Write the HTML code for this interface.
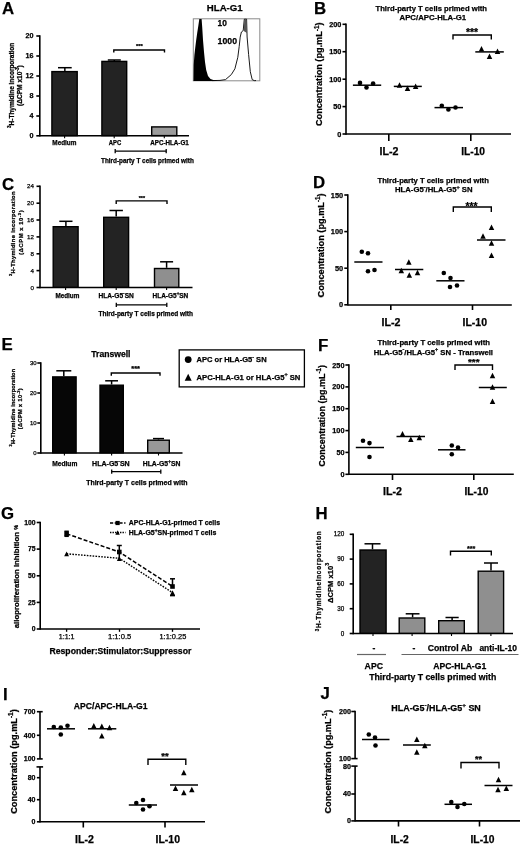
<!DOCTYPE html>
<html><head><meta charset="utf-8"><style>
html,body{margin:0;padding:0;background:#fff;width:520px;height:845px;overflow:hidden}
svg{display:block;font-family:"Liberation Sans", sans-serif;filter:grayscale(1)}
text{stroke:#000;stroke-width:0.25px}
</style></head><body>
<svg width="520" height="845" viewBox="0 0 520 845">
<rect width="520" height="845" fill="#fff"/>
<text x="2" y="13.5" font-size="16.8" font-weight="bold">A</text>
<line x1="39.8" y1="35.2" x2="39.8" y2="136.6" stroke="#000" stroke-width="1.6"/>
<line x1="36.3" y1="36" x2="39.8" y2="36" stroke="#000" stroke-width="1.6"/>
<line x1="36.3" y1="56" x2="39.8" y2="56" stroke="#000" stroke-width="1.6"/>
<line x1="36.3" y1="76" x2="39.8" y2="76" stroke="#000" stroke-width="1.6"/>
<line x1="36.3" y1="96" x2="39.8" y2="96" stroke="#000" stroke-width="1.6"/>
<line x1="36.3" y1="116" x2="39.8" y2="116" stroke="#000" stroke-width="1.6"/>
<line x1="36.3" y1="135.8" x2="39.8" y2="135.8" stroke="#000" stroke-width="1.6"/>
<text x="33.6" y="38.48" font-size="7.2" font-weight="bold" text-anchor="end">20</text>
<text x="33.6" y="58.48" font-size="7.2" font-weight="bold" text-anchor="end">16</text>
<text x="33.6" y="78.48" font-size="7.2" font-weight="bold" text-anchor="end">12</text>
<text x="33.6" y="98.48" font-size="7.2" font-weight="bold" text-anchor="end">8</text>
<text x="33.6" y="118.48" font-size="7.2" font-weight="bold" text-anchor="end">4</text>
<text x="33.6" y="138.28" font-size="7.2" font-weight="bold" text-anchor="end">0</text>
<line x1="39.8" y1="135.8" x2="189" y2="135.8" stroke="#000" stroke-width="1.6"/>
<line x1="64.6" y1="135.8" x2="64.6" y2="138.3" stroke="#000" stroke-width="1.1"/>
<line x1="114.2" y1="135.8" x2="114.2" y2="138.3" stroke="#000" stroke-width="1.1"/>
<line x1="164.3" y1="135.8" x2="164.3" y2="138.3" stroke="#000" stroke-width="1.1"/>
<rect x="51.9" y="71.6" width="25.3" height="64" fill="#232323" stroke="#000" stroke-width="1.4"/>
<line x1="64.85" y1="67.7" x2="64.85" y2="70.9" stroke="#000" stroke-width="1.5"/>
<line x1="58" y1="67.7" x2="71.7" y2="67.7" stroke="#000" stroke-width="1.5"/>
<rect x="101.9" y="61.4" width="24.8" height="74.2" fill="#232323" stroke="#000" stroke-width="1.4"/>
<line x1="114.3" y1="60" x2="114.3" y2="61" stroke="#000" stroke-width="1.5"/>
<line x1="107.8" y1="60" x2="120.8" y2="60" stroke="#000" stroke-width="1.5"/>
<rect x="151.7" y="126.9" width="25.1" height="8.7" fill="#9c9c9c" stroke="#000" stroke-width="1.4"/>
<polyline points="113.8,52.6 113.8,50 164.5,50 164.5,52.6" fill="none" stroke="#000" stroke-width="1.4"/>
<text x="139.45" y="48.18" font-size="5.94" font-weight="bold" text-anchor="middle">***</text>
<text x="52.3" y="145.2" font-size="6.4" font-weight="bold" textLength="24.19" lengthAdjust="spacingAndGlyphs" fill="#000">Medium</text>
<text x="108.7" y="145.2" font-size="6.4" font-weight="bold" textLength="12.51" lengthAdjust="spacingAndGlyphs" fill="#000">APC</text>
<text x="150.2" y="145.2" font-size="6.4" font-weight="bold" textLength="38.61" lengthAdjust="spacingAndGlyphs" fill="#000">APC-HLA-G1</text>
<line x1="115.2" y1="151.2" x2="166.2" y2="151.2" stroke="#000" stroke-width="1.3"/>
<line x1="115.2" y1="149.1" x2="115.2" y2="153.3" stroke="#000" stroke-width="1.3"/>
<line x1="166.2" y1="149.1" x2="166.2" y2="153.3" stroke="#000" stroke-width="1.3"/>
<text x="101" y="163.4" font-size="6.37" font-weight="bold" textLength="92.81" lengthAdjust="spacingAndGlyphs" fill="#000">Third-party T cells primed with</text>
<text transform="translate(14 127.9) rotate(-90)" font-size="6.6" font-weight="bold" textLength="85.21" lengthAdjust="spacing"><tspan font-size="70%" dy="-0.6em">3</tspan><tspan dy="0.42em">H-Thymidine incorporation</tspan></text>
<text transform="translate(22 106) rotate(-90)" font-size="6.6" font-weight="bold" textLength="40.79" lengthAdjust="spacing">(ΔCPM x10<tspan font-size="70%" dy="-0.6em">-3</tspan><tspan dy="0.42em">)</tspan></text>
<text x="206.8" y="11.3" font-size="9.65" font-weight="bold" textLength="35.91" lengthAdjust="spacingAndGlyphs" fill="#000">HLA-G1</text>
<rect x="193.3" y="18.8" width="66.5" height="62" fill="none" stroke="#8a8a8a" stroke-width="1"/>
<path d="M193.5,81 L193.7,65 L194.4,55 L195.2,48 L196.2,40 L197.2,33 L198.3,26 L199.3,19 L201.6,19 L202.2,27 L203,40 L204,52 L205,62 L206.2,70 L208,76 L210.5,79 L214,80.3 L217,80.7 L217,81 Z" fill="#000"/>
<path d="M212,80.6 L220,80.4 L225.5,79.6 L231.3,74.6 L234.9,68.8 L237.8,57.3 L239.2,46.5 L240.2,37.1 L241.4,32 L243.2,30.6 L244.3,19.2 L246.6,19.2 L247.1,37 L248.6,54.4 L250.3,71.7 L252.2,79.6 L254.3,80.6 L256,80.6" fill="none" stroke="#000" stroke-width="0.9"/>
<path d="M243.6,31 L244.3,20 L246.6,20 L247,33 Z" fill="#555"/>
<text x="217.6" y="26.3" font-size="8.37" font-weight="bold" textLength="9.31" lengthAdjust="spacingAndGlyphs" fill="#000">10</text>
<text x="217.6" y="43.6" font-size="8.72" font-weight="bold" textLength="19.41" lengthAdjust="spacingAndGlyphs" fill="#000">1000</text>
<text x="313.9" y="14.2" font-size="16.8" font-weight="bold">B</text>
<text x="375.5" y="11.4" font-size="7.66" font-weight="bold" textLength="111.51" lengthAdjust="spacingAndGlyphs" fill="#000">Third-party T cells primed with</text>
<text x="399.5" y="20.3" font-size="7.8" font-weight="bold" textLength="66.71" lengthAdjust="spacingAndGlyphs" fill="#000">APC/APC-HLA-G1</text>
<line x1="346" y1="23.5" x2="346" y2="134.8" stroke="#000" stroke-width="1.6"/>
<line x1="342.5" y1="24.3" x2="346" y2="24.3" stroke="#000" stroke-width="1.6"/>
<line x1="342.5" y1="51.7" x2="346" y2="51.7" stroke="#000" stroke-width="1.6"/>
<line x1="342.5" y1="79.2" x2="346" y2="79.2" stroke="#000" stroke-width="1.6"/>
<line x1="342.5" y1="106.6" x2="346" y2="106.6" stroke="#000" stroke-width="1.6"/>
<line x1="342.5" y1="134" x2="346" y2="134" stroke="#000" stroke-width="1.6"/>
<text x="341.4" y="26.81" font-size="7.3" font-weight="bold" text-anchor="end">200</text>
<text x="341.4" y="54.21" font-size="7.3" font-weight="bold" text-anchor="end">150</text>
<text x="341.4" y="81.71" font-size="7.3" font-weight="bold" text-anchor="end">100</text>
<text x="341.4" y="109.11" font-size="7.3" font-weight="bold" text-anchor="end">50</text>
<text x="341.4" y="136.51" font-size="7.3" font-weight="bold" text-anchor="end">0</text>
<text transform="translate(322.4 126) rotate(-90)" font-size="9.12" font-weight="bold" textLength="103.48" lengthAdjust="spacingAndGlyphs">Concentration (pg.mL<tspan font-size="70%" dy="-0.6em">-1</tspan><tspan dy="0.42em">)</tspan></text>
<line x1="346" y1="134" x2="511" y2="134" stroke="#000" stroke-width="1.6"/>
<line x1="388.8" y1="134" x2="388.8" y2="141" stroke="#000" stroke-width="1.6"/>
<line x1="470.8" y1="134" x2="470.8" y2="141" stroke="#000" stroke-width="1.6"/>
<text x="379.5" y="154.8" font-size="10.69" font-weight="bold" textLength="19.01" lengthAdjust="spacingAndGlyphs" fill="#000">IL-2</text>
<text x="461.2" y="154.8" font-size="10.2" font-weight="bold" textLength="23.81" lengthAdjust="spacingAndGlyphs" fill="#000">IL-10</text>
<line x1="352.9" y1="85.2" x2="381.2" y2="85.2" stroke="#000" stroke-width="1.5"/>
<circle cx="360" cy="82.9" r="2.3" fill="#000"/>
<circle cx="366.5" cy="87.5" r="2.3" fill="#000"/>
<circle cx="373.1" cy="83.6" r="2.3" fill="#000"/>
<line x1="393.8" y1="86.4" x2="421.8" y2="86.4" stroke="#000" stroke-width="1.5"/>
<polygon points="399.5,82.25 396.75,87.75 402.25,87.75" fill="#000"/>
<polygon points="407.5,85.45 404.75,90.95 410.25,90.95" fill="#000"/>
<polygon points="415.6,83.55 412.85,89.05 418.35,89.05" fill="#000"/>
<line x1="434.5" y1="107.6" x2="463" y2="107.6" stroke="#000" stroke-width="1.5"/>
<circle cx="441.8" cy="105.8" r="2.3" fill="#000"/>
<circle cx="448.4" cy="109.5" r="2.3" fill="#000"/>
<circle cx="455.5" cy="107.5" r="2.3" fill="#000"/>
<line x1="475.3" y1="51.9" x2="503.8" y2="51.9" stroke="#000" stroke-width="1.5"/>
<polygon points="481.5,46.05 478.75,51.55 484.25,51.55" fill="#000"/>
<polygon points="489.5,53.45 486.75,58.95 492.25,58.95" fill="#000"/>
<polygon points="497.5,48.45 494.75,53.95 500.25,53.95" fill="#000"/>
<polyline points="453,39.5 453,35 491.3,35 491.3,39.5" fill="none" stroke="#000" stroke-width="1.4"/>
<text x="472.05" y="36.43" font-size="10.41" font-weight="bold" text-anchor="middle">***</text>
<text x="2" y="190.4" font-size="16.8" font-weight="bold">C</text>
<line x1="40" y1="185.5" x2="40" y2="288.3" stroke="#000" stroke-width="1.6"/>
<line x1="36.5" y1="186.3" x2="40" y2="186.3" stroke="#000" stroke-width="1.6"/>
<line x1="36.5" y1="203.2" x2="40" y2="203.2" stroke="#000" stroke-width="1.6"/>
<line x1="36.5" y1="220" x2="40" y2="220" stroke="#000" stroke-width="1.6"/>
<line x1="36.5" y1="236.9" x2="40" y2="236.9" stroke="#000" stroke-width="1.6"/>
<line x1="36.5" y1="253.8" x2="40" y2="253.8" stroke="#000" stroke-width="1.6"/>
<line x1="36.5" y1="270.6" x2="40" y2="270.6" stroke="#000" stroke-width="1.6"/>
<line x1="36.5" y1="287.5" x2="40" y2="287.5" stroke="#000" stroke-width="1.6"/>
<text x="33.9" y="188.43" font-size="6.2" font-weight="normal" text-anchor="end">24</text>
<text x="33.9" y="205.33" font-size="6.2" font-weight="normal" text-anchor="end">20</text>
<text x="33.9" y="222.13" font-size="6.2" font-weight="normal" text-anchor="end">16</text>
<text x="33.9" y="239.03" font-size="6.2" font-weight="normal" text-anchor="end">12</text>
<text x="33.9" y="255.93" font-size="6.2" font-weight="normal" text-anchor="end">8</text>
<text x="33.9" y="272.73" font-size="6.2" font-weight="normal" text-anchor="end">4</text>
<text x="33.9" y="289.63" font-size="6.2" font-weight="normal" text-anchor="end">0</text>
<line x1="40" y1="287.5" x2="192.5" y2="287.5" stroke="#000" stroke-width="1.6"/>
<line x1="65.6" y1="287.5" x2="65.6" y2="290" stroke="#000" stroke-width="1.1"/>
<line x1="116.2" y1="287.5" x2="116.2" y2="290" stroke="#000" stroke-width="1.1"/>
<line x1="166.6" y1="287.5" x2="166.6" y2="290" stroke="#000" stroke-width="1.1"/>
<rect x="53.2" y="226.7" width="24.9" height="60.6" fill="#232323" stroke="#000" stroke-width="1.4"/>
<line x1="65.9" y1="221.3" x2="65.9" y2="226" stroke="#000" stroke-width="1.5"/>
<line x1="59.3" y1="221.3" x2="72.5" y2="221.3" stroke="#000" stroke-width="1.5"/>
<rect x="103.7" y="217.3" width="24.9" height="70" fill="#232323" stroke="#000" stroke-width="1.4"/>
<line x1="116.2" y1="210.5" x2="116.2" y2="216.6" stroke="#000" stroke-width="1.5"/>
<line x1="109.5" y1="210.5" x2="122.9" y2="210.5" stroke="#000" stroke-width="1.5"/>
<rect x="154.5" y="268.5" width="24.3" height="18.8" fill="#8f8f8f" stroke="#000" stroke-width="1.4"/>
<line x1="166.6" y1="261.8" x2="166.6" y2="267.8" stroke="#000" stroke-width="1.5"/>
<line x1="160.1" y1="261.8" x2="173.1" y2="261.8" stroke="#000" stroke-width="1.5"/>
<polyline points="116.2,203.9 116.2,200.9 167,200.9 167,203.9" fill="none" stroke="#000" stroke-width="1.4"/>
<text x="141.9" y="199.72" font-size="5.42" font-weight="bold" text-anchor="middle">***</text>
<text x="55.4" y="297.7" font-size="6.35" font-weight="bold" textLength="23.99" lengthAdjust="spacingAndGlyphs" fill="#000">Medium</text>
<text x="98.5" y="297.7" font-size="6.61" font-weight="bold" textLength="35.31" lengthAdjust="spacingAndGlyphs" fill="#000">HLA-G5<tspan font-size="70%" dy="-0.6em">-</tspan><tspan dy="0.42em">SN</tspan></text>
<text x="152.5" y="297.7" font-size="6.49" font-weight="bold" textLength="35.81" lengthAdjust="spacingAndGlyphs" fill="#000">HLA-G5<tspan font-size="70%" dy="-0.6em">+</tspan><tspan dy="0.42em">SN</tspan></text>
<line x1="116.3" y1="304.8" x2="166.8" y2="304.8" stroke="#000" stroke-width="1.3"/>
<line x1="116.3" y1="302.7" x2="116.3" y2="306.9" stroke="#000" stroke-width="1.3"/>
<line x1="166.8" y1="302.7" x2="166.8" y2="306.9" stroke="#000" stroke-width="1.3"/>
<text x="98.5" y="315.8" font-size="6.49" font-weight="bold" textLength="94.51" lengthAdjust="spacingAndGlyphs" fill="#000">Third-party T cells primed with</text>
<text transform="translate(14.6 276.1) rotate(-90)" font-size="5.8" font-weight="bold" textLength="84.6" lengthAdjust="spacing"><tspan font-size="70%" dy="-0.6em">3</tspan><tspan dy="0.42em">H-Thymidine incorporation</tspan></text>
<text transform="translate(23.4 254.8) rotate(-90)" font-size="5.8" font-weight="bold" textLength="44.39" lengthAdjust="spacing">(ΔCPM x 10<tspan font-size="70%" dy="-0.6em">-3</tspan><tspan dy="0.42em">)</tspan></text>
<text x="313.1" y="187.5" font-size="16.8" font-weight="bold">D</text>
<text x="377.5" y="183.4" font-size="7.65" font-weight="bold" textLength="111.31" lengthAdjust="spacingAndGlyphs" fill="#000">Third-party T cells primed with</text>
<text x="395" y="192.2" font-size="7.73" font-weight="bold" textLength="77.52" lengthAdjust="spacingAndGlyphs" fill="#000">HLA-G5<tspan font-size="70%" dy="-0.6em">-</tspan><tspan dy="0.42em">/HLA-G5</tspan><tspan font-size="70%" dy="-0.6em">+</tspan><tspan dy="0.42em"> SN</tspan></text>
<line x1="347.8" y1="194.2" x2="347.8" y2="305.6" stroke="#000" stroke-width="1.6"/>
<line x1="344.3" y1="195" x2="347.8" y2="195" stroke="#000" stroke-width="1.6"/>
<line x1="344.3" y1="231.6" x2="347.8" y2="231.6" stroke="#000" stroke-width="1.6"/>
<line x1="344.3" y1="268.2" x2="347.8" y2="268.2" stroke="#000" stroke-width="1.6"/>
<line x1="344.3" y1="304.8" x2="347.8" y2="304.8" stroke="#000" stroke-width="1.6"/>
<text x="343.2" y="197.55" font-size="7.4" font-weight="bold" text-anchor="end">150</text>
<text x="343.2" y="234.15" font-size="7.4" font-weight="bold" text-anchor="end">100</text>
<text x="343.2" y="270.75" font-size="7.4" font-weight="bold" text-anchor="end">50</text>
<text x="343.2" y="307.35" font-size="7.4" font-weight="bold" text-anchor="end">0</text>
<text transform="translate(323.6 297.4) rotate(-90)" font-size="9.18" font-weight="bold" textLength="104.08" lengthAdjust="spacingAndGlyphs">Concentration (pg.mL<tspan font-size="70%" dy="-0.6em">-1</tspan><tspan dy="0.42em">)</tspan></text>
<line x1="347.8" y1="305" x2="511.8" y2="305" stroke="#000" stroke-width="1.6"/>
<line x1="390.8" y1="305" x2="390.8" y2="310" stroke="#000" stroke-width="1.6"/>
<line x1="472.5" y1="305" x2="472.5" y2="310" stroke="#000" stroke-width="1.6"/>
<text x="381.5" y="326.3" font-size="10.69" font-weight="bold" textLength="19.01" lengthAdjust="spacingAndGlyphs" fill="#000">IL-2</text>
<text x="462.5" y="326.3" font-size="10.5" font-weight="bold" textLength="24.51" lengthAdjust="spacingAndGlyphs" fill="#000">IL-10</text>
<line x1="354.3" y1="262" x2="382.5" y2="262" stroke="#000" stroke-width="1.5"/>
<circle cx="361.8" cy="251.8" r="2.3" fill="#000"/>
<circle cx="368" cy="253.3" r="2.3" fill="#000"/>
<circle cx="368" cy="271.3" r="2.3" fill="#000"/>
<circle cx="374.5" cy="270" r="2.3" fill="#000"/>
<line x1="395" y1="269.5" x2="423.3" y2="269.5" stroke="#000" stroke-width="1.5"/>
<polygon points="408.8,259.25 406.05,264.75 411.55,264.75" fill="#000"/>
<polygon points="401.3,267.75 398.55,273.25 404.05,273.25" fill="#000"/>
<polygon points="409.3,272.25 406.55,277.75 412.05,277.75" fill="#000"/>
<polygon points="417.5,269.75 414.75,275.25 420.25,275.25" fill="#000"/>
<line x1="436.3" y1="280.8" x2="464.5" y2="280.8" stroke="#000" stroke-width="1.5"/>
<circle cx="443.8" cy="273" r="2.3" fill="#000"/>
<circle cx="450.5" cy="278" r="2.3" fill="#000"/>
<circle cx="450" cy="287" r="2.3" fill="#000"/>
<circle cx="457" cy="285.5" r="2.3" fill="#000"/>
<line x1="477" y1="240" x2="505.5" y2="240" stroke="#000" stroke-width="1.5"/>
<polygon points="491.5,224.45 488.75,229.95 494.25,229.95" fill="#000"/>
<polygon points="483,233.25 480.25,238.75 485.75,238.75" fill="#000"/>
<polygon points="491.5,240.25 488.75,245.75 494.25,245.75" fill="#000"/>
<polygon points="491.5,252.55 488.75,258.05 494.25,258.05" fill="#000"/>
<polyline points="453.3,212 453.3,207 491.3,207 491.3,212" fill="none" stroke="#000" stroke-width="1.4"/>
<text x="471.5" y="209.59" font-size="10.33" font-weight="bold" text-anchor="middle">***</text>
<text x="1.4" y="349.8" font-size="16.8" font-weight="bold">E</text>
<text x="91.3" y="357" font-size="8.6" font-weight="bold" textLength="39.18" lengthAdjust="spacingAndGlyphs" fill="#000">Transwell</text>
<line x1="40.8" y1="362.2" x2="40.8" y2="453.8" stroke="#000" stroke-width="1.6"/>
<line x1="37.3" y1="363" x2="40.8" y2="363" stroke="#000" stroke-width="1.6"/>
<line x1="37.3" y1="393" x2="40.8" y2="393" stroke="#000" stroke-width="1.6"/>
<line x1="37.3" y1="423" x2="40.8" y2="423" stroke="#000" stroke-width="1.6"/>
<line x1="37.3" y1="453" x2="40.8" y2="453" stroke="#000" stroke-width="1.6"/>
<text x="36.6" y="365.06" font-size="6" font-weight="normal" text-anchor="end">30</text>
<text x="36.6" y="395.06" font-size="6" font-weight="normal" text-anchor="end">20</text>
<text x="36.6" y="425.06" font-size="6" font-weight="normal" text-anchor="end">10</text>
<text x="36.6" y="455.06" font-size="6" font-weight="normal" text-anchor="end">0</text>
<line x1="40.8" y1="453" x2="182.5" y2="453" stroke="#000" stroke-width="1.6"/>
<line x1="64.4" y1="453" x2="64.4" y2="455.5" stroke="#000" stroke-width="1.1"/>
<line x1="111.6" y1="453" x2="111.6" y2="455.5" stroke="#000" stroke-width="1.1"/>
<line x1="158.5" y1="453" x2="158.5" y2="455.5" stroke="#000" stroke-width="1.1"/>
<rect x="52.7" y="376.9" width="23.4" height="75.9" fill="#060606" stroke="#000" stroke-width="1.4"/>
<line x1="63.8" y1="370.8" x2="63.8" y2="376.2" stroke="#000" stroke-width="1.5"/>
<line x1="56.3" y1="370.8" x2="71.3" y2="370.8" stroke="#000" stroke-width="1.5"/>
<rect x="100" y="385.2" width="23.3" height="67.6" fill="#060606" stroke="#000" stroke-width="1.4"/>
<line x1="111.6" y1="380.8" x2="111.6" y2="384.5" stroke="#000" stroke-width="1.5"/>
<line x1="105.2" y1="380.8" x2="118" y2="380.8" stroke="#000" stroke-width="1.5"/>
<rect x="147.7" y="440.2" width="21.6" height="12.6" fill="#989898" stroke="#000" stroke-width="1.4"/>
<line x1="158.5" y1="438.6" x2="158.5" y2="439.5" stroke="#000" stroke-width="1.5"/>
<line x1="153" y1="438.6" x2="164" y2="438.6" stroke="#000" stroke-width="1.5"/>
<polyline points="111.3,375.8 111.3,373 160,373 160,375.8" fill="none" stroke="#000" stroke-width="1.4"/>
<text x="135.6" y="371.26" font-size="7.49" font-weight="bold" text-anchor="middle">***</text>
<text x="52.2" y="465.6" font-size="6.67" font-weight="bold" textLength="25.19" lengthAdjust="spacingAndGlyphs" fill="#000">Medium</text>
<text x="92.1" y="465.6" font-size="7.04" font-weight="bold" textLength="37.62" lengthAdjust="spacingAndGlyphs" fill="#000">HLA-G5<tspan font-size="70%" dy="-0.6em">-</tspan><tspan dy="0.42em">SN</tspan></text>
<text x="142.8" y="465.6" font-size="6.81" font-weight="bold" textLength="37.61" lengthAdjust="spacingAndGlyphs" fill="#000">HLA-G5<tspan font-size="70%" dy="-0.6em">+</tspan><tspan dy="0.42em">SN</tspan></text>
<line x1="111.7" y1="471.7" x2="160.8" y2="471.7" stroke="#000" stroke-width="1.3"/>
<line x1="111.7" y1="469.6" x2="111.7" y2="473.8" stroke="#000" stroke-width="1.3"/>
<line x1="160.8" y1="469.6" x2="160.8" y2="473.8" stroke="#000" stroke-width="1.3"/>
<text x="86.2" y="484.6" font-size="6.96" font-weight="bold" textLength="101.31" lengthAdjust="spacingAndGlyphs" fill="#000">Third-party T cells primed with</text>
<text transform="translate(14.8 446.4) rotate(-90)" font-size="5.6" font-weight="bold" textLength="77.5" lengthAdjust="spacing"><tspan font-size="70%" dy="-0.6em">3</tspan><tspan dy="0.42em">H-Thymidine incorporation</tspan></text>
<text transform="translate(22.2 429.2) rotate(-90)" font-size="5.6" font-weight="bold" textLength="40.79" lengthAdjust="spacing">(ΔCPM x 10<tspan font-size="70%" dy="-0.6em">-3</tspan><tspan dy="0.42em">)</tspan></text>
<rect x="179.2" y="349.9" width="125.2" height="37.0" fill="none" stroke="#000" stroke-width="1.3"/>
<circle cx="188.2" cy="359.6" r="3.4" fill="#000"/>
<polygon points="188.2,373.7 184.7,380.7 191.7,380.7" fill="#000"/>
<text x="196.5" y="361.8" font-size="7.55" font-weight="bold" textLength="70.12" lengthAdjust="spacingAndGlyphs" fill="#000">APC or HLA-G5<tspan font-size="70%" dy="-0.6em">-</tspan><tspan dy="0.42em"> SN</tspan></text>
<text x="196.5" y="379.5" font-size="7.69" font-weight="bold" textLength="103.92" lengthAdjust="spacingAndGlyphs" fill="#000">APC-HLA-G1 or HLA-G5<tspan font-size="70%" dy="-0.6em">+</tspan><tspan dy="0.42em"> SN</tspan></text>
<text x="318" y="351.3" font-size="16.8" font-weight="bold">F</text>
<text x="377.5" y="344.7" font-size="7.73" font-weight="bold" textLength="112.51" lengthAdjust="spacingAndGlyphs" fill="#000">Third-party T cells primed with</text>
<text x="373.8" y="354.7" font-size="7.7" font-weight="bold" textLength="119.18" lengthAdjust="spacingAndGlyphs" fill="#000">HLA-G5<tspan font-size="70%" dy="-0.6em">-</tspan><tspan dy="0.42em">/HLA-G5</tspan><tspan font-size="70%" dy="-0.6em">+</tspan><tspan dy="0.42em"> SN - Transwell</tspan></text>
<line x1="348.9" y1="364.2" x2="348.9" y2="475.1" stroke="#000" stroke-width="1.6"/>
<line x1="345.4" y1="365" x2="348.9" y2="365" stroke="#000" stroke-width="1.6"/>
<line x1="345.4" y1="386.9" x2="348.9" y2="386.9" stroke="#000" stroke-width="1.6"/>
<line x1="345.4" y1="408.7" x2="348.9" y2="408.7" stroke="#000" stroke-width="1.6"/>
<line x1="345.4" y1="430.6" x2="348.9" y2="430.6" stroke="#000" stroke-width="1.6"/>
<line x1="345.4" y1="452.4" x2="348.9" y2="452.4" stroke="#000" stroke-width="1.6"/>
<line x1="345.4" y1="474.3" x2="348.9" y2="474.3" stroke="#000" stroke-width="1.6"/>
<text x="344.5" y="367.51" font-size="7.3" font-weight="bold" text-anchor="end">250</text>
<text x="344.5" y="389.41" font-size="7.3" font-weight="bold" text-anchor="end">200</text>
<text x="344.5" y="411.21" font-size="7.3" font-weight="bold" text-anchor="end">150</text>
<text x="344.5" y="433.11" font-size="7.3" font-weight="bold" text-anchor="end">100</text>
<text x="344.5" y="454.91" font-size="7.3" font-weight="bold" text-anchor="end">50</text>
<text x="344.5" y="476.81" font-size="7.3" font-weight="bold" text-anchor="end">0</text>
<text transform="translate(325 466.7) rotate(-90)" font-size="8.96" font-weight="bold" textLength="101.68" lengthAdjust="spacingAndGlyphs">Concentration (pg.mL<tspan font-size="70%" dy="-0.6em">-1</tspan><tspan dy="0.42em">)</tspan></text>
<line x1="348.9" y1="474.3" x2="513.8" y2="474.3" stroke="#000" stroke-width="1.6"/>
<line x1="392.5" y1="474.3" x2="392.5" y2="480" stroke="#000" stroke-width="1.6"/>
<line x1="473.8" y1="474.3" x2="473.8" y2="480" stroke="#000" stroke-width="1.6"/>
<text x="383" y="495.3" font-size="10.69" font-weight="bold" textLength="19.01" lengthAdjust="spacingAndGlyphs" fill="#000">IL-2</text>
<text x="464.5" y="495.3" font-size="10.2" font-weight="bold" textLength="23.81" lengthAdjust="spacingAndGlyphs" fill="#000">IL-10</text>
<line x1="355.8" y1="447.5" x2="384" y2="447.5" stroke="#000" stroke-width="1.5"/>
<circle cx="363" cy="440.8" r="2.3" fill="#000"/>
<circle cx="369.5" cy="443.1" r="2.3" fill="#000"/>
<circle cx="369.5" cy="457" r="2.3" fill="#000"/>
<line x1="396.5" y1="436.5" x2="425" y2="436.5" stroke="#000" stroke-width="1.5"/>
<polygon points="402.5,431.05 399.75,436.55 405.25,436.55" fill="#000"/>
<polygon points="410.8,436.55 408.05,442.05 413.55,442.05" fill="#000"/>
<polygon points="419.3,434.75 416.55,440.25 422.05,440.25" fill="#000"/>
<line x1="438" y1="449.8" x2="465.5" y2="449.8" stroke="#000" stroke-width="1.5"/>
<circle cx="451.8" cy="445.5" r="2.3" fill="#000"/>
<circle cx="458" cy="447.5" r="2.3" fill="#000"/>
<circle cx="451.8" cy="454.3" r="2.3" fill="#000"/>
<line x1="478.8" y1="387.5" x2="506.8" y2="387.5" stroke="#000" stroke-width="1.5"/>
<polygon points="492.5,372.75 489.75,378.25 495.25,378.25" fill="#000"/>
<polygon points="492.5,384.25 489.75,389.75 495.25,389.75" fill="#000"/>
<polygon points="492.5,398.55 489.75,404.05 495.25,404.05" fill="#000"/>
<polyline points="455,370 455,365 492.5,365 492.5,370" fill="none" stroke="#000" stroke-width="1.4"/>
<text x="473.8" y="365.17" font-size="9.9" font-weight="bold" text-anchor="middle">***</text>
<text x="0.9" y="519" font-size="16.8" font-weight="bold">G</text>
<line x1="40.2" y1="521.7" x2="40.2" y2="629.8" stroke="#000" stroke-width="1.6"/>
<line x1="36.7" y1="522.5" x2="40.2" y2="522.5" stroke="#000" stroke-width="1.6"/>
<line x1="36.7" y1="549.1" x2="40.2" y2="549.1" stroke="#000" stroke-width="1.6"/>
<line x1="36.7" y1="575.8" x2="40.2" y2="575.8" stroke="#000" stroke-width="1.6"/>
<line x1="36.7" y1="602.4" x2="40.2" y2="602.4" stroke="#000" stroke-width="1.6"/>
<line x1="36.7" y1="629" x2="40.2" y2="629" stroke="#000" stroke-width="1.6"/>
<text x="35.6" y="524.84" font-size="6.8" font-weight="bold" text-anchor="end">100</text>
<text x="35.6" y="551.44" font-size="6.8" font-weight="bold" text-anchor="end">75</text>
<text x="35.6" y="578.14" font-size="6.8" font-weight="bold" text-anchor="end">50</text>
<text x="35.6" y="604.74" font-size="6.8" font-weight="bold" text-anchor="end">25</text>
<text x="35.6" y="631.34" font-size="6.8" font-weight="bold" text-anchor="end">0</text>
<line x1="40.2" y1="629" x2="200" y2="629" stroke="#000" stroke-width="1.6"/>
<line x1="66.6" y1="629" x2="66.6" y2="631.8" stroke="#000" stroke-width="1.3"/>
<line x1="119.5" y1="629" x2="119.5" y2="631.8" stroke="#000" stroke-width="1.3"/>
<line x1="172.5" y1="629" x2="172.5" y2="631.8" stroke="#000" stroke-width="1.3"/>
<text x="58.8" y="639.2" font-size="7.06" font-weight="normal" textLength="15.71" lengthAdjust="spacingAndGlyphs" fill="#000">1:1:1</text>
<text x="108" y="639.2" font-size="7.62" font-weight="normal" textLength="23.31" lengthAdjust="spacingAndGlyphs" fill="#000">1:1:0.5</text>
<text x="159.5" y="639.2" font-size="7.42" font-weight="normal" textLength="26.81" lengthAdjust="spacingAndGlyphs" fill="#000">1:1:0.25</text>
<text x="49.5" y="654.2" font-size="8.65" font-weight="bold" textLength="141.79" lengthAdjust="spacingAndGlyphs" fill="#000">Responder:Stimulator:Suppressor</text>
<text transform="translate(18.8 628.3) rotate(-90)" font-size="7.81" font-weight="bold" textLength="103.4" lengthAdjust="spacingAndGlyphs">alloproliferation Inhibition <tspan font-size="70%" dy="-0.11em">%</tspan></text>
<polyline points="66.6,533.8 119.3,552 172.5,586.5" fill="none" stroke="#000" stroke-width="1.5" stroke-dasharray="4,2"/>
<polyline points="66.6,553.8 119.3,558.3 172.5,592.6" fill="none" stroke="#000" stroke-width="1.4" stroke-dasharray="1.6,1.3"/>
<line x1="66.6" y1="531.3" x2="66.6" y2="533.8" stroke="#000" stroke-width="1.5"/>
<line x1="64.4" y1="531.3" x2="68.8" y2="531.3" stroke="#000" stroke-width="1.5"/>
<line x1="66.6" y1="536.3" x2="66.6" y2="533.8" stroke="#000" stroke-width="1.5"/>
<line x1="64.4" y1="536.3" x2="68.8" y2="536.3" stroke="#000" stroke-width="1.5"/>
<line x1="119.3" y1="545.5" x2="119.3" y2="552" stroke="#000" stroke-width="1.5"/>
<line x1="116.8" y1="545.5" x2="121.8" y2="545.5" stroke="#000" stroke-width="1.5"/>
<line x1="172.5" y1="578.8" x2="172.5" y2="587" stroke="#000" stroke-width="1.5"/>
<line x1="170" y1="578.8" x2="175" y2="578.8" stroke="#000" stroke-width="1.5"/>
<line x1="172.5" y1="595.6" x2="172.5" y2="592.6" stroke="#000" stroke-width="1.5"/>
<line x1="170" y1="595.6" x2="175" y2="595.6" stroke="#000" stroke-width="1.5"/>
<line x1="119.3" y1="552" x2="119.3" y2="558.5" stroke="#000" stroke-width="1.5"/>
<rect x="64.3" y="531.5" width="4.6" height="4.6" fill="#000"/>
<rect x="117" y="549.7" width="4.6" height="4.6" fill="#000"/>
<rect x="170.2" y="584.2" width="4.6" height="4.6" fill="#000"/>
<polygon points="66.6,551.4 64.2,556.2 69,556.2" fill="#000"/>
<polygon points="119.3,556.1 116.9,560.9 121.7,560.9" fill="#000"/>
<polygon points="172.5,590.2 170.1,595 174.9,595" fill="#000"/>
<line x1="110" y1="523" x2="125.5" y2="523" stroke="#000" stroke-width="1.5" stroke-dasharray="3.2,1.5"/>
<rect x="115.5" y="520.9" width="4.2" height="4.2" fill="#000"/>
<line x1="110" y1="532.5" x2="125.5" y2="532.5" stroke="#000" stroke-width="1.4" stroke-dasharray="1.4,1.1"/>
<polygon points="117.6,530.3 115.4,534.7 119.8,534.7" fill="#000"/>
<text x="128.8" y="525.3" font-size="6.9" font-weight="bold" textLength="91.21" lengthAdjust="spacingAndGlyphs" fill="#000">APC-HLA-G1-primed T cells</text>
<text x="128.8" y="534.8" font-size="6.96" font-weight="bold" textLength="87.51" lengthAdjust="spacingAndGlyphs" fill="#000">HLA-G5<tspan font-size="70%" dy="-0.6em">+</tspan><tspan dy="0.42em">SN-primed T cells</tspan></text>
<text x="315.4" y="519.3" font-size="16.8" font-weight="bold">H</text>
<line x1="353.2" y1="533.5" x2="353.2" y2="634.3" stroke="#000" stroke-width="1.6"/>
<line x1="349.7" y1="534.3" x2="353.2" y2="534.3" stroke="#000" stroke-width="1.6"/>
<line x1="349.7" y1="559.1" x2="353.2" y2="559.1" stroke="#000" stroke-width="1.6"/>
<line x1="349.7" y1="583.9" x2="353.2" y2="583.9" stroke="#000" stroke-width="1.6"/>
<line x1="349.7" y1="608.7" x2="353.2" y2="608.7" stroke="#000" stroke-width="1.6"/>
<line x1="349.7" y1="633.5" x2="353.2" y2="633.5" stroke="#000" stroke-width="1.6"/>
<text x="344.2" y="536.47" font-size="6.3" font-weight="normal" text-anchor="end">120</text>
<text x="344.2" y="561.27" font-size="6.3" font-weight="normal" text-anchor="end">90</text>
<text x="344.2" y="586.07" font-size="6.3" font-weight="normal" text-anchor="end">60</text>
<text x="344.2" y="610.87" font-size="6.3" font-weight="normal" text-anchor="end">30</text>
<text x="344.2" y="635.67" font-size="6.3" font-weight="normal" text-anchor="end">0</text>
<line x1="353.2" y1="633.5" x2="513" y2="633.5" stroke="#000" stroke-width="1.6"/>
<line x1="373" y1="633.5" x2="373" y2="636" stroke="#000" stroke-width="1.1"/>
<line x1="412.1" y1="633.5" x2="412.1" y2="636" stroke="#000" stroke-width="1.1"/>
<line x1="451.5" y1="633.5" x2="451.5" y2="636" stroke="#000" stroke-width="1.1"/>
<line x1="490.9" y1="633.5" x2="490.9" y2="636" stroke="#000" stroke-width="1.1"/>
<rect x="360" y="550" width="26.1" height="83.3" fill="#232323" stroke="#000" stroke-width="1.4"/>
<line x1="372.5" y1="543.8" x2="372.5" y2="549.3" stroke="#000" stroke-width="1.5"/>
<line x1="364.5" y1="543.8" x2="380.5" y2="543.8" stroke="#000" stroke-width="1.5"/>
<rect x="399.2" y="618" width="25.6" height="15.3" fill="#8f8f8f" stroke="#000" stroke-width="1.4"/>
<line x1="412.6" y1="613.8" x2="412.6" y2="617.3" stroke="#000" stroke-width="1.5"/>
<line x1="405.7" y1="613.8" x2="419.5" y2="613.8" stroke="#000" stroke-width="1.5"/>
<rect x="438.7" y="620.7" width="25.6" height="12.6" fill="#8f8f8f" stroke="#000" stroke-width="1.4"/>
<line x1="452.1" y1="617.5" x2="452.1" y2="620" stroke="#000" stroke-width="1.5"/>
<line x1="445.5" y1="617.5" x2="458.7" y2="617.5" stroke="#000" stroke-width="1.5"/>
<rect x="478.2" y="571.2" width="25.4" height="62.1" fill="#8f8f8f" stroke="#000" stroke-width="1.4"/>
<line x1="491" y1="563" x2="491" y2="570.5" stroke="#000" stroke-width="1.5"/>
<line x1="484" y1="563" x2="498" y2="563" stroke="#000" stroke-width="1.5"/>
<polyline points="450.5,555.5 450.5,551.3 491.3,551.3 491.3,555.5" fill="none" stroke="#000" stroke-width="1.4"/>
<text x="471.2" y="551.18" font-size="7.31" font-weight="bold" text-anchor="middle">***</text>
<text x="373.8" y="650.62" font-size="8.5" font-weight="bold" text-anchor="middle">-</text>
<text x="413.8" y="650.62" font-size="8.5" font-weight="bold" text-anchor="middle">-</text>
<text x="427.7" y="650.8" font-size="8.7" font-weight="bold" textLength="44.61" lengthAdjust="spacingAndGlyphs" fill="#000">Control Ab</text>
<text x="479.4" y="650.8" font-size="8.46" font-weight="bold" textLength="37.61" lengthAdjust="spacingAndGlyphs" fill="#000">anti-IL-10</text>
<line x1="357" y1="654.5" x2="386" y2="654.5" stroke="#666" stroke-width="1.2"/>
<line x1="401.5" y1="654.5" x2="518.5" y2="654.5" stroke="#666" stroke-width="1.2"/>
<text x="364.6" y="669.2" font-size="8.72" font-weight="bold" textLength="18.42" lengthAdjust="spacingAndGlyphs" fill="#000">APC</text>
<text x="433.2" y="669.2" font-size="8.6" font-weight="bold" textLength="53.01" lengthAdjust="spacingAndGlyphs" fill="#000">APC-HLA-G1</text>
<text x="369.2" y="680.2" font-size="8.73" font-weight="bold" textLength="127.11" lengthAdjust="spacingAndGlyphs" fill="#000">Third-party T cells primed with</text>
<text transform="translate(321.4 631.3) rotate(-90)" font-size="6.4" font-weight="bold" textLength="100.01" lengthAdjust="spacing"><tspan font-size="70%" dy="-0.6em">3</tspan><tspan dy="0.42em">H-ThymidineIncorporation</tspan></text>
<text transform="translate(332.5 603) rotate(-90)" font-size="7.64" font-weight="bold" textLength="40.31" lengthAdjust="spacingAndGlyphs">ΔCPM x10<tspan font-size="70%" dy="-0.6em">3</tspan></text>
<text x="2.9" y="699.8" font-size="16.8" font-weight="bold">I</text>
<text x="73.8" y="708.5" font-size="8.62" font-weight="bold" textLength="73.71" lengthAdjust="spacingAndGlyphs" fill="#000">APC/APC-HLA-G1</text>
<line x1="40" y1="711" x2="40" y2="758.9" stroke="#000" stroke-width="1.6"/>
<line x1="36.9" y1="711.7" x2="42.7" y2="711.7" stroke="#000" stroke-width="1.6"/>
<line x1="36.9" y1="735.3" x2="40" y2="735.3" stroke="#000" stroke-width="1.6"/>
<line x1="36.9" y1="758.9" x2="42.7" y2="758.9" stroke="#000" stroke-width="1.6"/>
<line x1="40" y1="766.9" x2="40" y2="822.5" stroke="#000" stroke-width="1.6"/>
<line x1="36.5" y1="766.9" x2="43.1" y2="766.9" stroke="#000" stroke-width="1.6"/>
<line x1="36.9" y1="777.7" x2="40" y2="777.7" stroke="#000" stroke-width="1.6"/>
<line x1="36.9" y1="799.7" x2="40" y2="799.7" stroke="#000" stroke-width="1.6"/>
<line x1="36.9" y1="821.8" x2="40" y2="821.8" stroke="#000" stroke-width="1.6"/>
<text x="35.5" y="714.11" font-size="7" font-weight="bold" text-anchor="end">700</text>
<text x="35.5" y="737.71" font-size="7" font-weight="bold" text-anchor="end">400</text>
<text x="35.5" y="760.91" font-size="7" font-weight="bold" text-anchor="end">100</text>
<text x="35.5" y="780.11" font-size="7" font-weight="bold" text-anchor="end">80</text>
<text x="35.5" y="802.11" font-size="7" font-weight="bold" text-anchor="end">40</text>
<text x="35.5" y="824.21" font-size="7" font-weight="bold" text-anchor="end">0</text>
<line x1="40" y1="821.8" x2="205" y2="821.8" stroke="#000" stroke-width="1.6"/>
<line x1="83.3" y1="821.8" x2="83.3" y2="827.5" stroke="#000" stroke-width="1.6"/>
<line x1="165" y1="821.8" x2="165" y2="827.5" stroke="#000" stroke-width="1.6"/>
<text x="75" y="842.5" font-size="10.58" font-weight="bold" textLength="18.81" lengthAdjust="spacingAndGlyphs" fill="#000">IL-2</text>
<text x="155.5" y="842.5" font-size="10.5" font-weight="bold" textLength="24.51" lengthAdjust="spacingAndGlyphs" fill="#000">IL-10</text>
<text transform="translate(16.5 813.8) rotate(-90)" font-size="9.22" font-weight="bold" textLength="104.58" lengthAdjust="spacingAndGlyphs">Concentration (pg.mL<tspan font-size="70%" dy="-0.6em">-1</tspan><tspan dy="0.42em">)</tspan></text>
<line x1="47" y1="728.8" x2="75" y2="728.8" stroke="#000" stroke-width="1.5"/>
<circle cx="53.8" cy="727" r="2.3" fill="#000"/>
<circle cx="60.8" cy="727.5" r="2.3" fill="#000"/>
<circle cx="67.5" cy="725.8" r="2.3" fill="#000"/>
<circle cx="60.8" cy="734.5" r="2.3" fill="#000"/>
<line x1="88" y1="728.8" x2="116.3" y2="728.8" stroke="#000" stroke-width="1.5"/>
<polygon points="93.8,723.05 91.05,728.55 96.55,728.55" fill="#000"/>
<polygon points="101.8,723.55 99.05,729.05 104.55,729.05" fill="#000"/>
<polygon points="109.5,724.75 106.75,730.25 112.25,730.25" fill="#000"/>
<polygon points="101.8,733.05 99.05,738.55 104.55,738.55" fill="#000"/>
<line x1="128.8" y1="805" x2="157" y2="805" stroke="#000" stroke-width="1.5"/>
<circle cx="136.3" cy="803" r="2.3" fill="#000"/>
<circle cx="143" cy="800" r="2.3" fill="#000"/>
<circle cx="149.5" cy="806.3" r="2.3" fill="#000"/>
<circle cx="143" cy="809.5" r="2.3" fill="#000"/>
<line x1="170" y1="785" x2="198" y2="785" stroke="#000" stroke-width="1.5"/>
<polygon points="183.8,769.75 181.05,775.25 186.55,775.25" fill="#000"/>
<polygon points="175.5,785.55 172.75,791.05 178.25,791.05" fill="#000"/>
<polygon points="183.8,789.75 181.05,795.25 186.55,795.25" fill="#000"/>
<polygon points="191.8,786.75 189.05,792.25 194.55,792.25" fill="#000"/>
<polyline points="148,764.9 148,759.3 185.8,759.3 185.8,764.9" fill="none" stroke="#000" stroke-width="1.4"/>
<text x="165" y="759.45" font-size="9.44" font-weight="bold" text-anchor="middle">**</text>
<text x="320.4" y="698.8" font-size="16.8" font-weight="bold">J</text>
<text x="391.3" y="710.5" font-size="8.92" font-weight="bold" textLength="89.52" lengthAdjust="spacingAndGlyphs" fill="#000">HLA-G5<tspan font-size="70%" dy="-0.6em">-</tspan><tspan dy="0.42em">/HLA-G5</tspan><tspan font-size="70%" dy="-0.6em">+</tspan><tspan dy="0.42em"> SN</tspan></text>
<line x1="355.1" y1="710.8" x2="355.1" y2="758.6" stroke="#000" stroke-width="1.6"/>
<line x1="351.3" y1="711.5" x2="355.1" y2="711.5" stroke="#000" stroke-width="1.6"/>
<line x1="351.3" y1="758.6" x2="357.6" y2="758.6" stroke="#000" stroke-width="1.6"/>
<line x1="355.1" y1="766.1" x2="355.1" y2="821.6" stroke="#000" stroke-width="1.6"/>
<line x1="351.3" y1="766.1" x2="357.6" y2="766.1" stroke="#000" stroke-width="1.6"/>
<line x1="351.3" y1="794" x2="355.1" y2="794" stroke="#000" stroke-width="1.6"/>
<line x1="351.3" y1="820.9" x2="355.1" y2="820.9" stroke="#000" stroke-width="1.6"/>
<text x="350.9" y="714.38" font-size="7.2" font-weight="bold" text-anchor="end">200</text>
<text x="350.9" y="761.08" font-size="7.2" font-weight="bold" text-anchor="end">100</text>
<text x="350.9" y="768.88" font-size="7.2" font-weight="bold" text-anchor="end">80</text>
<text x="350.9" y="796.48" font-size="7.2" font-weight="bold" text-anchor="end">40</text>
<text x="350.9" y="823.38" font-size="7.2" font-weight="bold" text-anchor="end">0</text>
<line x1="355.1" y1="820.9" x2="520" y2="820.9" stroke="#000" stroke-width="1.6"/>
<line x1="398.5" y1="820.9" x2="398.5" y2="826.5" stroke="#000" stroke-width="1.6"/>
<line x1="479.5" y1="820.9" x2="479.5" y2="826.5" stroke="#000" stroke-width="1.6"/>
<text x="390.5" y="842.5" font-size="10.3" font-weight="bold" textLength="18.31" lengthAdjust="spacingAndGlyphs" fill="#000">IL-2</text>
<text x="470.5" y="842.5" font-size="10.29" font-weight="bold" textLength="24.01" lengthAdjust="spacingAndGlyphs" fill="#000">IL-10</text>
<text transform="translate(331.3 813.5) rotate(-90)" font-size="9.16" font-weight="bold" textLength="103.88" lengthAdjust="spacingAndGlyphs">Concentration (pg.mL<tspan font-size="70%" dy="-0.6em">-1</tspan><tspan dy="0.42em">)</tspan></text>
<line x1="362" y1="739.5" x2="389.5" y2="739.5" stroke="#000" stroke-width="1.5"/>
<circle cx="368.8" cy="734.5" r="2.3" fill="#000"/>
<circle cx="375" cy="737.5" r="2.3" fill="#000"/>
<circle cx="375.5" cy="745.5" r="2.3" fill="#000"/>
<line x1="403" y1="745" x2="430.8" y2="745" stroke="#000" stroke-width="1.5"/>
<polygon points="416.8,736.55 414.05,742.05 419.55,742.05" fill="#000"/>
<polygon points="424.8,742.75 422.05,748.25 427.55,748.25" fill="#000"/>
<polygon points="416.8,749.15 414.05,754.65 419.55,754.65" fill="#000"/>
<line x1="444.5" y1="804.3" x2="472" y2="804.3" stroke="#000" stroke-width="1.5"/>
<circle cx="451.3" cy="802" r="2.3" fill="#000"/>
<circle cx="457.5" cy="807" r="2.3" fill="#000"/>
<circle cx="464.3" cy="804" r="2.3" fill="#000"/>
<line x1="484.5" y1="785.5" x2="512.5" y2="785.5" stroke="#000" stroke-width="1.5"/>
<polygon points="498.5,776.75 495.75,782.25 501.25,782.25" fill="#000"/>
<polygon points="498,786.75 495.25,792.25 500.75,792.25" fill="#000"/>
<polygon points="506.3,785.55 503.55,791.05 509.05,791.05" fill="#000"/>
<polyline points="461,768.5 461,762.5 499,762.5 499,768.5" fill="none" stroke="#000" stroke-width="1.4"/>
<text x="478.5" y="761.75" font-size="9.06" font-weight="bold" text-anchor="middle">**</text>
</svg>
</body></html>
